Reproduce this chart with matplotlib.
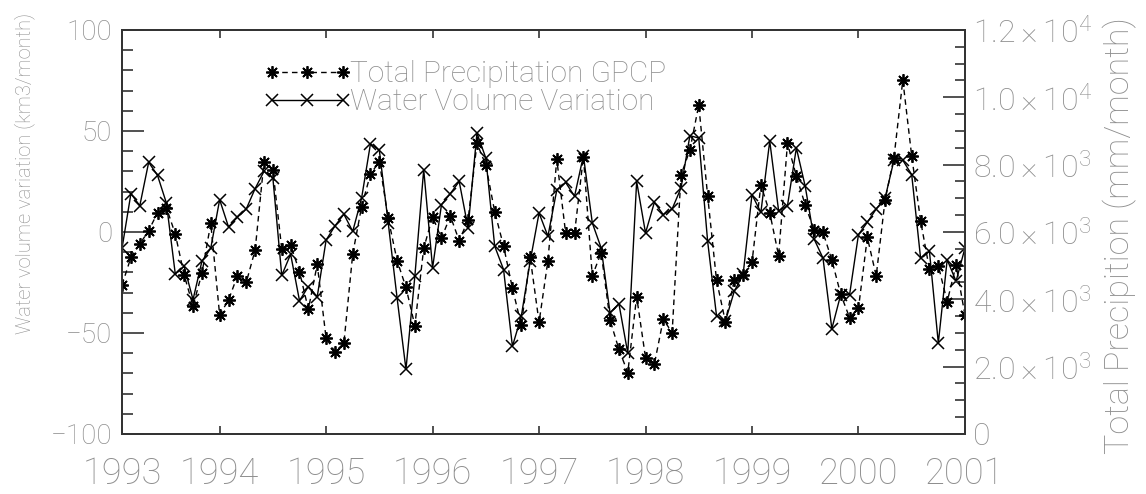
import matplotlib
matplotlib.use('Agg')
import matplotlib.pyplot as plt
from matplotlib.legend_handler import HandlerLine2D

plt.rcParams['font.family'] = ['Roboto', 'DejaVu Sans']
plt.rcParams['font.weight'] = 'light'
plt.rcParams['mathtext.fontset'] = 'custom'
plt.rcParams['mathtext.rm'] = 'Roboto:light'
plt.rcParams['mathtext.it'] = 'Roboto:light'

# monthly index, Jan 1993 .. Dec 2000
months = list(range(1, 97))

water = [-8, 19, 13, 34.5, 28, 14.3, -20.8, -17, -33.5, -14.5, -8, 16,
         2.5, 7.3, 11.4, 21.5, 30, 26.7, -21.5, -11, -34, -27, -32, -4,
         3, 8.8, 0.3, 16.8, 43.7, 40.4, 4.5, -32.7, -68, -22, 30.9, -17.8,
         13.5, 19, 25, 2, 49, 36.6, -7, -18.6, -56.6, -41.7, -14.5, 9.4,
         -2.1, 20.8, 24.5, 17.7, 37.8, 4.5, -7.9, -40, -35.5, -60, 25, -0.5,
         14.7, 8.6, 11.4, 21.8, 47.7, 46.5, -4.6, -41.4, -44.2, -29.4, -21, 18.5,
         9.7, 45, 10.5, 13, 41.6, 22.6, -3.5, -12.9, -47.9, -31, -31, -1.3,
         4.8, 11.4, 16.8, 35.5, 35.5, 28.4, -12.9, -9.6, -55, -13.7, -24.4, -8]

precip = [4425, 5247, 5643, 6039, 6574, 6722, 5940, 4722, 3802, 4772, 6257, 3534,
          3980, 4693, 4505, 5465, 8088, 7841, 5495, 5613, 4821, 3703, 5039, 2841,
          2445, 2693, 5346, 6752, 7722, 8088, 6405, 5148, 4356, 3217, 5514, 6455,
          5811, 6475, 5742, 6356, 8633, 7989, 6603, 5584, 4326, 3237, 5247, 3316,
          5148, 8158, 5960, 5960, 8237, 4693, 5386, 3386, 2515, 1822, 4079, 2267,
          2079, 3406, 3010, 7692, 8435, 9771, 7079, 4574, 3336, 4574, 4722, 5099,
          7395, 6574, 5300, 8633, 7663, 6801, 6059, 5990, 5168, 4148, 3455, 3732,
          5841, 4693, 6950, 8207, 10514, 8257, 6336, 4891, 5000, 3930, 5019, 3534]

year_ticks = [1, 12, 24, 36, 48, 60, 72, 84, 96]
year_labels = ['1993', '1994', '1995', '1996', '1997', '1998', '1999', '2000', '2001']
left_ticks = [-100, -50, 0, 50, 100]
left_labels = ['\u2212100', '\u221250', '0', '50', '100']
right_ticks = [0, 2000, 4000, 6000, 8000, 10000, 12000]
right_labels = ['0', r'$2.0\times10^{3}$', r'$4.0\times10^{3}$', r'$6.0\times10^{3}$',
                r'$8.0\times10^{3}$', r'$1.0\times10^{4}$', r'$1.2\times10^{4}$']

txt = '#8e8e8e'
frame = '#333333'

fig = plt.figure(figsize=(11.46, 4.94), dpi=100)
ax = fig.add_axes([0.1065, 0.1215, 0.7355, 0.8178])
ax2 = ax.twinx()

l2, = ax2.plot(months, precip, color='black', lw=1.0, ls=(0, (4, 3)),
               marker=(8, 2, 0), ms=9, mew=1.3)
l1, = ax.plot(months, water, color='black', lw=1.0,
              marker='x', ms=8, mew=1.1)

ax.set_xlim(1, 96)
ax.set_ylim(-100, 100)
ax2.set_ylim(0, 12000)

ax.set_xticks(year_ticks)
ax.set_xticklabels(year_labels)
ax.set_yticks(left_ticks)
ax.set_yticklabels(left_labels)
ax.set_yticks(range(-100, 101, 10), minor=True)
ax2.set_yticks(right_ticks)
ax2.set_yticklabels(right_labels)
ax2.set_yticks(range(0, 12001, 500), minor=True)

for a in (ax, ax2):
    for s in a.spines.values():
        s.set_color(frame)
        s.set_linewidth(1.3)

ax.tick_params(axis='x', direction='in', length=6, width=1.2, color=frame,
               top=True, labelsize=26, labelcolor=txt, pad=16)
ax.tick_params(axis='y', which='major', direction='in', length=16, width=1.2,
               color=frame, labelsize=20, labelcolor=txt, pad=7)
ax.tick_params(axis='y', which='minor', direction='in', length=8, width=1.2, color=frame)
ax2.tick_params(axis='y', which='major', direction='in', length=16, width=1.2,
                color=frame, labelsize=23, labelcolor=txt, pad=6)
ax2.tick_params(axis='y', which='minor', direction='in', length=7, width=1.2, color=frame)

fig.text(25 / 1146, 1 - 173 / 494, 'Water volume variation (km3/month)',
         rotation=90, ha='center', va='center', fontsize=14.5, color=txt)
fig.text(1120 / 1146, 1 - 236 / 494, 'Total Precipition (mm/month)',
         rotation=90, ha='center', va='center', fontsize=24.5, color=txt)

leg = ax.legend([l2, l1], ['Total Precipitation GPCP', 'Water Volume Variation'],
                loc='upper left', bbox_to_anchor=(0.178, 0.925), frameon=False,
                numpoints=3, handlelength=2.37, handletextpad=0.23, borderpad=0,
                borderaxespad=0, fontsize=21.5, labelspacing=0.0,
                handler_map={l1: HandlerLine2D(marker_pad=0),
                             l2: HandlerLine2D(marker_pad=0)})
for t in leg.get_texts():
    t.set_color(txt)

fig.savefig('out.png', dpi=100)
